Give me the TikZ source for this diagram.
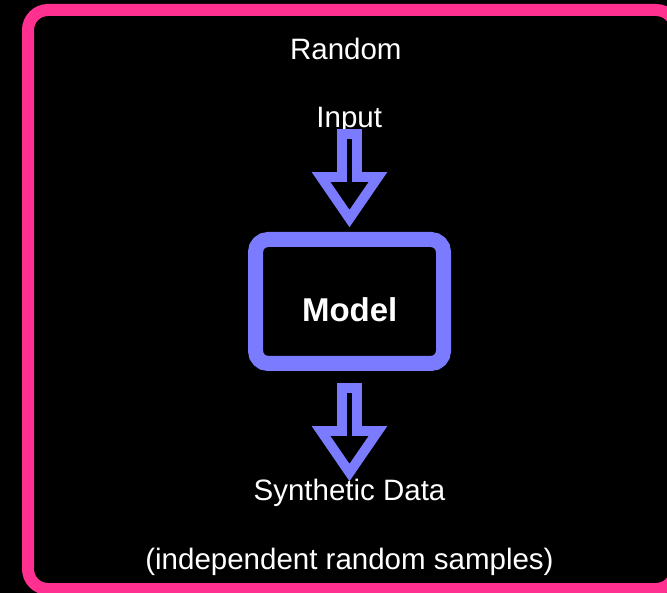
\documentclass[tikz,border=0pt]{standalone}
\usepackage{fontspec}
\setmainfont{Liberation Sans}
\usetikzlibrary{calc}
\definecolor{pinkframe}{RGB}{255,48,144}
\definecolor{arrowblue}{RGB}{123,123,255}
\tikzset{
  txt/.style={text=white, inner sep=0pt, anchor=base, font=\fontsize{29.5}{35}\selectfont},
  modelbox/.style={draw=arrowblue, line width=15pt, rounded corners=12.5pt,
    minimum width=188pt, minimum height=124pt, inner sep=0pt, fill=black},
  blockarrow/.style={draw=arrowblue, fill=black, line width=9.8pt, line join=miter, miter limit=10},
  frame/.style={draw=pinkframe, line width=12pt, rounded corners=20pt}
}
\newcommand{\myblockarrow}[1]{%
  \draw[blockarrow] ($(#1)+(-7.5,0)$) -- ++(15,0) -- ++(0,43) -- ++(21,0)
    -- ($(#1)+(0,84.5)$) -- ($(#1)+(-28.5,43)$) -- ++(21,0) -- cycle;}
\begin{document}
\begin{tikzpicture}[x=1pt,y=-1pt]
\useasboundingbox (0,0) rectangle (667,593);
\fill[black] (0,0) rectangle (667,593);
\draw[frame] (28,10) rectangle (676,589);
\node[modelbox] (model) at (349.5,301.5) {};
\node[txt, font=\fontsize{33}{38}\bfseries] (modeltxt) at ($(model.center)+(0.2,20.2)$) {Model};
\node[txt] (random) at (345.8,59.3) {Random};
\node[txt] (input) at (349.2,127.3) {Input};
\node[txt] (synth) at (349.5,500.7) {Synthetic Data};
\node[txt] (indep) at (349.5,569.3) {(independent random samples)};
\coordinate (a1) at ($(model.north)+(0,-98)$);
\coordinate (a2) at ($(model.south)+(0,17)$);
\myblockarrow{a1}
\myblockarrow{a2}
\end{tikzpicture}
\end{document}
